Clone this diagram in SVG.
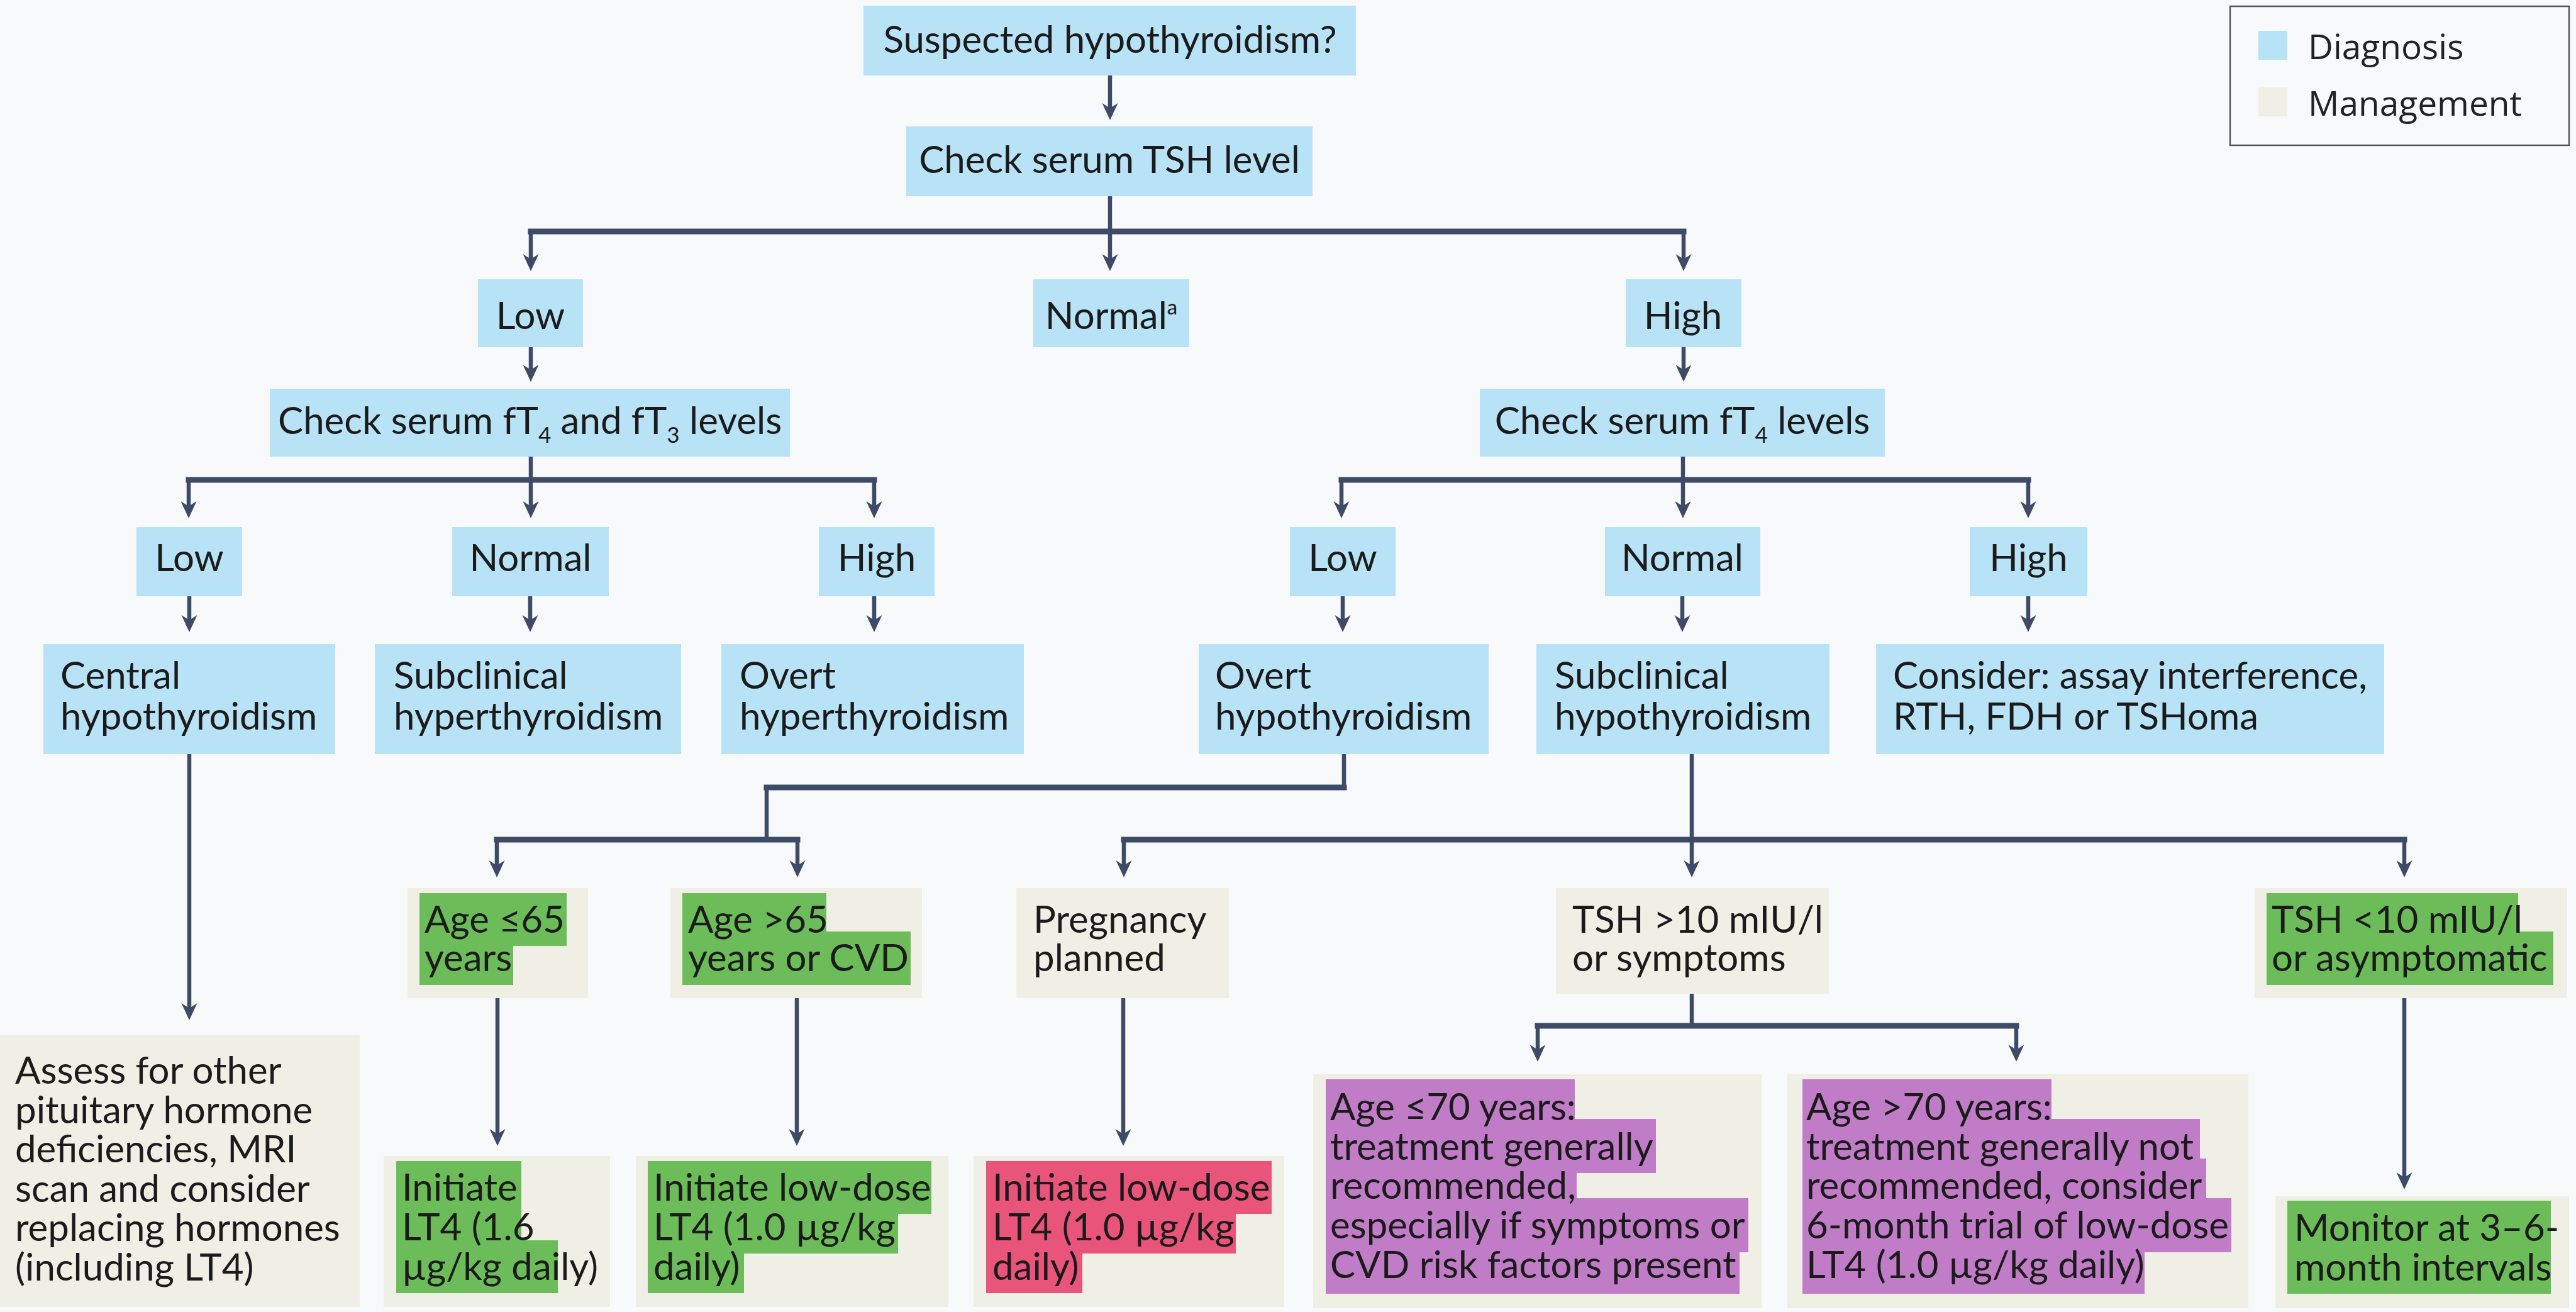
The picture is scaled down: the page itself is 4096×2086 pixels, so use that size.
<svg xmlns="http://www.w3.org/2000/svg" width="4096" height="2086" viewBox="0 0 4096 2086">
<defs>
<style>
.dx{fill:#b8e2f6}
.mg{fill:#f0efe6}
.gr{fill:#6cbd5a}
.pk{fill:#e9547a}
.pu{fill:#c07cc6}
.t{font-family:Lato,"Open Sans","Liberation Sans",sans-serif;font-size:60px;fill:#1b1b1b}
.c{text-anchor:middle}
.lg{font-family:"Open Sans","Noto Sans",sans-serif;font-size:55px;fill:#222}
.ln{fill:none;stroke:#3d4b66;stroke-width:6.5}
.bar{fill:none;stroke:#3d4b66;stroke-width:9;stroke-linecap:square}
.ar{marker-end:url(#ah)}
</style>
<marker id="ah" viewBox="-20 -15 32 30" refX="0" refY="0" markerWidth="32" markerHeight="30" markerUnits="userSpaceOnUse" orient="auto" overflow="visible">
<path d="M10,0 L-17,-12.5 L-9,0 L-17,12.5 Z" fill="#3d4b66"/>
</marker>
</defs>
<rect x="0" y="0" width="4096" height="2086" fill="#f8f9fa"/>

<g id="legend">
<rect x="3546" y="10" width="539" height="221" fill="none" stroke="#555" stroke-width="2.5"/>
<rect class="dx" x="3591" y="49" width="46" height="46"/>
<rect class="mg" x="3591" y="139" width="46" height="46"/>
<text class="lg" x="3670" y="94">Diagnosis</text>
<text class="lg" x="3670" y="184">Management</text>
</g>

<g id="connectors">
<path class="ln ar" d="M1765,120 V181"/>
<path class="bar" d="M844,368 H2677"/>
<path class="ln ar" d="M1765,312 V421"/>
<path class="ln ar" d="M844,368 V421"/>
<path class="ln ar" d="M2677,368 V421"/>
<path class="ln ar" d="M844,552 V597"/>
<path class="ln ar" d="M2677,552 V597"/>
<path class="bar" d="M300,763 H1390"/>
<path class="ln ar" d="M844,726 V814"/>
<path class="ln ar" d="M300,763 V814"/>
<path class="ln ar" d="M1390,763 V814"/>
<path class="bar" d="M2133,763 H3225"/>
<path class="ln ar" d="M2676,726 V814"/>
<path class="ln ar" d="M2133,763 V814"/>
<path class="ln ar" d="M3225,763 V814"/>
<path class="ln ar" d="M301,948 V995"/>
<path class="ln ar" d="M843,948 V995"/>
<path class="ln ar" d="M1390,948 V995"/>
<path class="ln ar" d="M2135,948 V995"/>
<path class="ln ar" d="M2675,948 V995"/>
<path class="ln ar" d="M3225,948 V995"/>
<path class="ln ar" d="M301,1199 V1612"/>
<path class="ln" d="M2137,1199 V1252"/>
<path class="bar" d="M2137,1252 H1219"/>
<path class="ln" d="M1219,1252 V1335"/>
<path class="bar" d="M790,1335 H1268"/>
<path class="ln ar" d="M790,1335 V1385"/>
<path class="ln ar" d="M1268,1335 V1385"/>
<path class="ln ar" d="M2690,1199 V1385"/>
<path class="bar" d="M1787,1335 H3823"/>
<path class="ln ar" d="M1787,1335 V1385"/>
<path class="ln ar" d="M3823,1335 V1385"/>
<path class="ln ar" d="M791,1587 V1812"/>
<path class="ln ar" d="M1267,1587 V1812"/>
<path class="ln ar" d="M1786,1587 V1812"/>
<path class="ln" d="M2690,1580 V1631"/>
<path class="bar" d="M2445,1631 H3206"/>
<path class="ln ar" d="M2445,1631 V1678"/>
<path class="ln ar" d="M3206,1631 V1678"/>
<path class="ln ar" d="M3823,1587 V1881"/>
</g>

<g id="n-suspected">
<rect class="dx" x="1373" y="9" width="783" height="111"/>
<text class="t c" x="1765" y="84">Suspected hypothyroidism?</text>
</g>
<g id="n-tsh">
<rect class="dx" x="1441" y="201" width="646" height="111"/>
<text class="t c" x="1764" y="275">Check serum TSH level</text>
</g>
<g id="n-tsh-low">
<rect class="dx" x="760" y="444" width="167" height="108"/>
<text class="t c" x="843.5" y="523">Low</text>
</g>
<g id="n-tsh-normal">
<rect class="dx" x="1643" y="444" width="248" height="108"/>
<text class="t c" x="1767" y="523">Normal<tspan font-size="33" dy="-23">a</tspan></text>
</g>
<g id="n-tsh-high">
<rect class="dx" x="2585" y="444" width="184" height="108"/>
<text class="t c" x="2676" y="523">High</text>
</g>
<g id="n-ft4ft3">
<rect class="dx" x="429" y="618" width="827" height="108"/>
<text class="t c" x="842.6" y="690">Check serum fT<tspan font-size="35" dy="14">4</tspan><tspan dy="-14"> and fT</tspan><tspan font-size="35" dy="14">3</tspan><tspan dy="-14"> levels</tspan></text>
</g>
<g id="n-ft4">
<rect class="dx" x="2353" y="618" width="644" height="108"/>
<text class="t c" x="2675" y="690">Check serum fT<tspan font-size="35" dy="14">4</tspan><tspan dy="-14"> levels</tspan></text>
</g>
<g id="n-l-low">
<rect class="dx" x="217" y="838" width="168" height="110"/>
<text class="t c" x="301" y="908">Low</text>
</g>
<g id="n-l-normal">
<rect class="dx" x="719" y="838" width="249" height="110"/>
<text class="t c" x="843.5" y="908">Normal</text>
</g>
<g id="n-l-high">
<rect class="dx" x="1302" y="838" width="184" height="110"/>
<text class="t c" x="1394" y="908">High</text>
</g>
<g id="n-r-low">
<rect class="dx" x="2051" y="838" width="168" height="110"/>
<text class="t c" x="2135" y="908">Low</text>
</g>
<g id="n-r-normal">
<rect class="dx" x="2552" y="838" width="247" height="110"/>
<text class="t c" x="2675" y="908">Normal</text>
</g>
<g id="n-r-high">
<rect class="dx" x="3132" y="838" width="187" height="110"/>
<text class="t c" x="3225.5" y="908">High</text>
</g>
<g id="n-central">
<rect class="dx" x="69" y="1024" width="464" height="175"/>
<text class="t" x="96" y="1095">Central</text>
<text class="t" x="96" y="1160">hypothyroidism</text>
</g>
<g id="n-subhyper">
<rect class="dx" x="596" y="1024" width="487" height="175"/>
<text class="t" x="626" y="1095">Subclinical</text>
<text class="t" x="626" y="1160">hyperthyroidism</text>
</g>
<g id="n-overthyper">
<rect class="dx" x="1147" y="1024" width="481" height="175"/>
<text class="t" x="1176" y="1095">Overt</text>
<text class="t" x="1176" y="1160">hyperthyroidism</text>
</g>
<g id="n-overthypo">
<rect class="dx" x="1906" y="1024" width="461" height="175"/>
<text class="t" x="1932" y="1095">Overt</text>
<text class="t" x="1932" y="1160">hypothyroidism</text>
</g>
<g id="n-subhypo">
<rect class="dx" x="2443" y="1024" width="466" height="175"/>
<text class="t" x="2472" y="1095">Subclinical</text>
<text class="t" x="2472" y="1160">hypothyroidism</text>
</g>
<g id="n-consider">
<rect class="dx" x="2983" y="1024" width="808" height="175"/>
<text class="t" x="3010" y="1095">Consider: assay interference,</text>
<text class="t" x="3010" y="1160">RTH, FDH or TSHoma</text>
</g>

<g id="n-assess">
<rect class="mg" x="0" y="1646" width="572" height="432"/>
<text class="t" x="24" y="1723">Assess for other</text>
<text class="t" x="24" y="1786">pituitary hormone</text>
<text class="t" x="24" y="1848">deficiencies, MRI</text>
<text class="t" x="24" y="1911">scan and consider</text>
<text class="t" x="24" y="1973">replacing hormones</text>
<text class="t" x="24" y="2036">(including LT4)</text>
</g>
<g id="n-age65le">
<rect class="mg" x="648" y="1412" width="287" height="175"/>
<rect class="gr" x="667" y="1420" width="234" height="84"/>
<rect class="gr" x="667" y="1481" width="149" height="85"/>
<text class="t" x="675" y="1483">Age ≤65</text>
<text class="t" x="675" y="1544">years</text>
</g>
<g id="n-age65gt">
<rect class="mg" x="1066" y="1412" width="400" height="175"/>
<rect class="gr" x="1085" y="1420" width="229" height="84"/>
<rect class="gr" x="1085" y="1481" width="363" height="85"/>
<text class="t" x="1094" y="1483">Age &gt;65</text>
<text class="t" x="1094" y="1544">years or CVD</text>
</g>
<g id="n-pregnancy">
<rect class="mg" x="1616" y="1412" width="338" height="175"/>
<text class="t" x="1643" y="1483">Pregnancy</text>
<text class="t" x="1643" y="1544">planned</text>
</g>
<g id="n-tsh10gt">
<rect class="mg" x="2474" y="1412" width="434" height="168"/>
<text class="t" x="2500" y="1483">TSH &gt;10 mIU/l</text>
<text class="t" x="2500" y="1544">or symptoms</text>
</g>
<g id="n-tsh10lt">
<rect class="mg" x="3585" y="1412" width="497" height="175"/>
<rect class="gr" x="3604" y="1420" width="400" height="84"/>
<rect class="gr" x="3604" y="1481" width="456" height="85"/>
<text class="t" x="3612" y="1483">TSH &lt;10 mIU/l</text>
<text class="t" x="3612" y="1544">or asymptomatic</text>
</g>
<g id="n-lt4-16">
<rect class="mg" x="610" y="1838" width="360" height="240"/>
<rect class="gr" x="630" y="1846" width="199" height="148"/>
<rect class="gr" x="630" y="1972" width="257" height="84"/>
<text class="t" x="639" y="1909">Initiate</text>
<text class="t" x="639" y="1972">LT4 (1.6</text>
<text class="t" x="639" y="2035">µg/kg daily)</text>
</g>
<g id="n-lt4-low">
<rect class="mg" x="1011" y="1838" width="497" height="240"/>
<rect class="gr" x="1030" y="1846" width="451" height="84"/>
<rect class="gr" x="1030" y="1909" width="398" height="84"/>
<rect class="gr" x="1030" y="1972" width="153" height="84"/>
<text class="t" x="1039" y="1909">Initiate low-dose</text>
<text class="t" x="1039" y="1972">LT4 (1.0 µg/kg</text>
<text class="t" x="1039" y="2035">daily)</text>
</g>
<g id="n-lt4-preg">
<rect class="mg" x="1548" y="1838" width="494" height="240"/>
<rect class="pk" x="1568" y="1846" width="454" height="84"/>
<rect class="pk" x="1568" y="1909" width="397" height="84"/>
<rect class="pk" x="1568" y="1972" width="153" height="84"/>
<text class="t" x="1578" y="1909">Initiate low-dose</text>
<text class="t" x="1578" y="1972">LT4 (1.0 µg/kg</text>
<text class="t" x="1578" y="2035">daily)</text>
</g>
<g id="n-age70le">
<rect class="mg" x="2088" y="1708" width="713" height="372"/>
<rect class="pu" x="2108" y="1716" width="396" height="86"/>
<rect class="pu" x="2108" y="1779" width="525" height="86"/>
<rect class="pu" x="2108" y="1842" width="399" height="86"/>
<rect class="pu" x="2108" y="1905" width="672" height="86"/>
<rect class="pu" x="2108" y="1968" width="658" height="89"/>
<text class="t" x="2115" y="1781">Age ≤70 years:</text>
<text class="t" x="2115" y="1844">treatment generally</text>
<text class="t" x="2115" y="1906">recommended,</text>
<text class="t" x="2115" y="1969">especially if symptoms or</text>
<text class="t" x="2115" y="2032">CVD risk factors present</text>
</g>
<g id="n-age70gt">
<rect class="mg" x="2842" y="1708" width="733" height="372"/>
<rect class="pu" x="2866" y="1716" width="396" height="86"/>
<rect class="pu" x="2866" y="1779" width="632" height="86"/>
<rect class="pu" x="2866" y="1842" width="642" height="86"/>
<rect class="pu" x="2866" y="1905" width="682" height="86"/>
<rect class="pu" x="2866" y="1968" width="544" height="89"/>
<text class="t" x="2872" y="1781">Age &gt;70 years:</text>
<text class="t" x="2872" y="1844">treatment generally not</text>
<text class="t" x="2872" y="1906">recommended, consider</text>
<text class="t" x="2872" y="1969">6-month trial of low-dose</text>
<text class="t" x="2872" y="2032">LT4 (1.0 µg/kg daily)</text>
</g>
<g id="n-monitor">
<rect class="mg" x="3618" y="1902" width="467" height="178"/>
<rect class="gr" x="3637" y="1909" width="419" height="148"/>
<text class="t" x="3648" y="1973">Monitor at 3–6-</text>
<text class="t" x="3648" y="2036">month intervals</text>
</g>
</svg>
